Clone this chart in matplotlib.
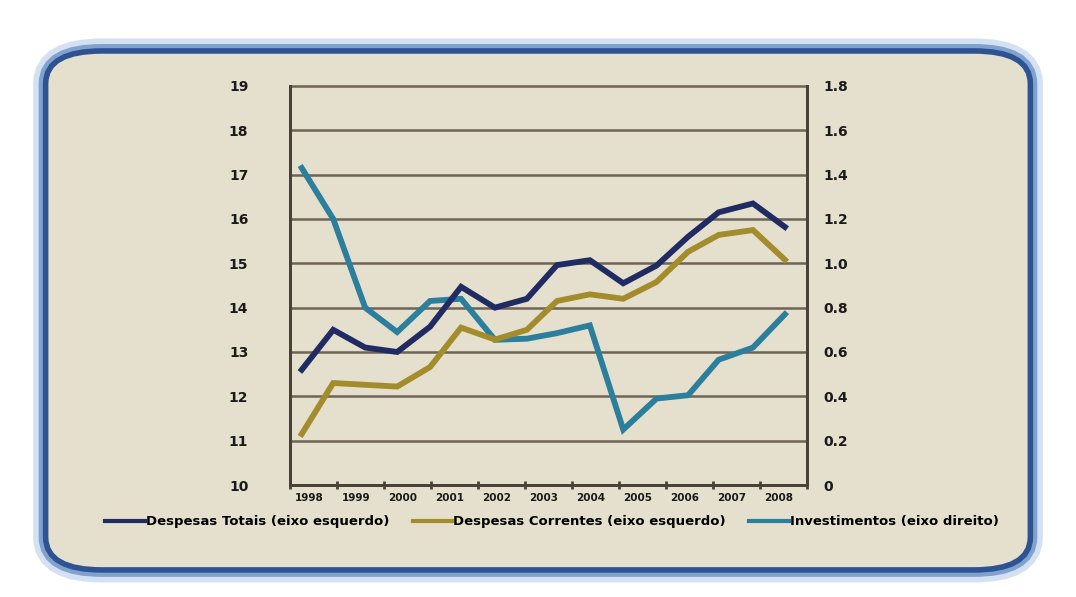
import matplotlib.pyplot as plt
from matplotlib.patches import FancyBboxPatch
from matplotlib.lines import Line2D

# positions of the points, in years from the start of 1998
x_pos = [0.25, 0.92, 1.60, 2.28, 2.98, 3.64, 4.36, 5.04, 5.68, 6.38, 7.09, 7.80, 8.47, 9.12, 9.85, 10.53]

despesas_totais = [12.6, 13.5, 13.1, 13.0, 13.57, 14.47, 14.0, 14.2, 14.96, 15.07,
                   14.55, 14.95, 15.6, 16.15, 16.35, 15.82]
despesas_correntes = [11.15, 12.3, 12.26, 12.22, 12.66, 13.55, 13.28, 13.5, 14.15, 14.3,
                      14.2, 14.58, 15.26, 15.64, 15.75, 15.08]
investimentos = [1.43, 1.20, 0.80, 0.69, 0.83, 0.84, 0.655, 0.66, 0.685, 0.72,
                 0.25, 0.39, 0.405, 0.565, 0.62, 0.77]

years = ['1998', '1999', '2000', '2001', '2002', '2003', '2004', '2005', '2006', '2007', '2008']
left_ticks = [10, 11, 12, 13, 14, 15, 16, 17, 18, 19]
right_ticks = [0, 0.2, 0.4, 0.6, 0.8, 1.0, 1.2, 1.4, 1.6, 1.8]
right_labels = ['0', '0.2', '0.4', '0.6', '0.8', '1.0', '1.2', '1.4', '1.6', '1.8']

c_totais = '#1f2b62'
c_correntes = '#a38c2c'
c_invest = '#2b7f9c'
c_grid = '#6f6456'
c_axis = '#4a4136'
c_text = '#1a1a1a'
beige = '#e5e0cd'

fig = plt.figure(figsize=(10.76, 5.97), dpi=100)
fig.patch.set_facecolor('white')

# rounded frame with blue glow
box = dict(boxstyle='round,pad=0.0,rounding_size=0.05', transform=fig.transFigure)
for lw, col, a in [(22, '#a9c4e6', 0.5), (14, '#5f86c0', 0.7), (8, '#2d5392', 1.0)]:
    fig.add_artist(FancyBboxPatch((0.045, 0.05), 0.91, 0.86, facecolor='none',
                                  edgecolor=col, linewidth=lw, alpha=a, zorder=-3, **box))
fig.add_artist(FancyBboxPatch((0.045, 0.05), 0.91, 0.86, facecolor=beige,
                              edgecolor='none', zorder=-2, **box))

ax = fig.add_axes([0.2695, 0.1876, 0.4805, 0.6684])
ax.set_facecolor('none')
ax2 = ax.twinx()
ax.set_zorder(1)
ax2.set_zorder(0)
ax2.patch.set_visible(False)

ax.set_xlim(0, 11)
ax.set_ylim(10, 19)
ax2.set_ylim(0, 1.8)

for v in right_ticks[1:]:
    ax2.axhline(v, color=c_grid, lw=1.8, zorder=1, clip_on=False)

ax.plot(x_pos, despesas_totais, color=c_totais, lw=4.2, solid_joinstyle='miter', zorder=3)
ax.plot(x_pos, despesas_correntes, color=c_correntes, lw=4.2, solid_joinstyle='miter', zorder=3)
ax2.plot(x_pos, investimentos, color=c_invest, lw=4.2, solid_joinstyle='miter', zorder=2)

ax.set_yticks(left_ticks)
ax.set_yticklabels([str(t) for t in left_ticks], fontsize=10, fontweight='bold', color=c_text)
ax2.set_yticks(right_ticks)
ax2.set_yticklabels(right_labels, fontsize=10, fontweight='bold', color=c_text)
ax.tick_params(axis='y', length=0, pad=30)
ax2.tick_params(axis='y', length=0, pad=12)

ax.set_xticks(range(0, 12))
ax.set_xticklabels([])
ax.set_xticks([i + 0.4 for i in range(11)], minor=True)
ax.set_xticklabels(years, minor=True, fontsize=7.5, fontweight='bold', color=c_text)
ax.tick_params(axis='x', which='major', direction='inout', length=6, width=2, color=c_axis)
ax.tick_params(axis='x', which='minor', length=0, pad=6)

for a in (ax, ax2):
    a.spines['top'].set_visible(False)
    for s in ('left', 'right', 'bottom'):
        a.spines[s].set_color(c_axis)
        a.spines[s].set_linewidth(2)

handles = [Line2D([], [], color=c_totais, lw=3),
           Line2D([], [], color=c_correntes, lw=3),
           Line2D([], [], color=c_invest, lw=3)]
labels = ['Despesas Totais (eixo esquerdo)', 'Despesas Correntes (eixo esquerdo)',
          'Investimentos (eixo direito)']
fig.legend(handles, labels, loc='center', bbox_to_anchor=(0.513, 0.126), ncol=3,
           frameon=False, handlelength=3.0, handletextpad=0.05, columnspacing=1.8,
           prop={'size': 9.5, 'weight': 'bold'})

fig.savefig('out.png', dpi=100)
